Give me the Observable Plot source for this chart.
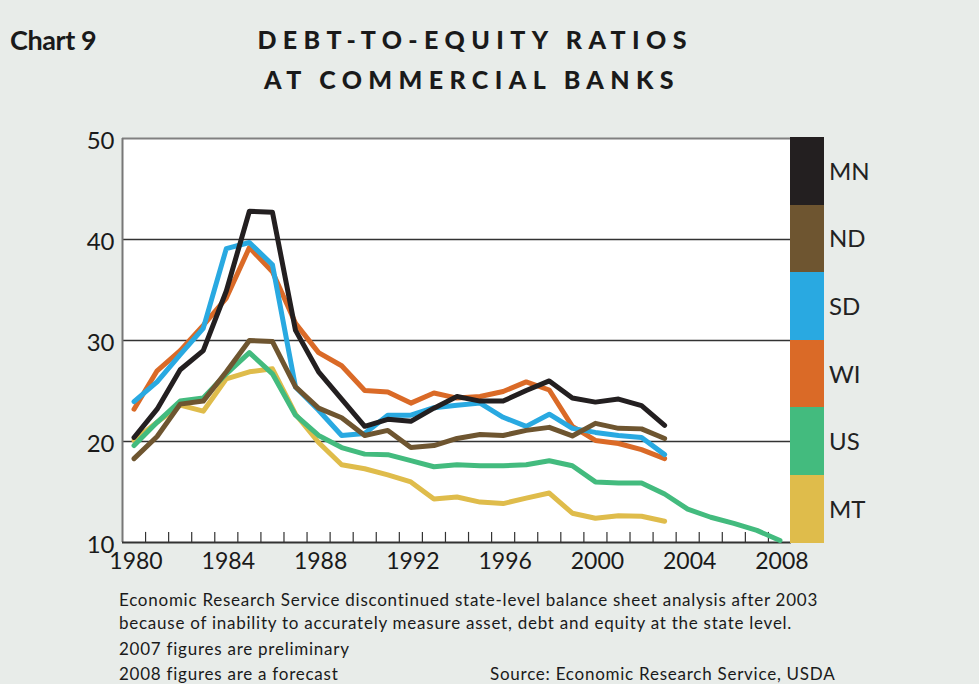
<!DOCTYPE html>
<html>
<head>
<meta charset="utf-8">
<script src="https://cdn.jsdelivr.net/npm/d3@7"></script>
<script src="https://cdn.jsdelivr.net/npm/@observablehq/plot@0.6"></script>
<style>
  html, body { margin: 0; padding: 0; background: #e8ece9; }
  #root { position: relative; width: 979px; height: 684px; overflow: hidden; font-family: Lato, "Open Sans", sans-serif; color: #1a1a1a; }
  .chartno { position: absolute; left: 10px; top: 23px; font-size: 27px; font-weight: 700; letter-spacing: -0.4px; }
  .title { position: absolute; left: 0; top: 19px; width: 944px; text-align: center; font-size: 25px; font-weight: 900; letter-spacing: 0.256em; line-height: 40px; text-indent: 0.256em; }
  #plot { position: absolute; left: 0; top: 120px; }
  #legend { position: absolute; left: 790px; top: 137px; }
  .sw { position: absolute; left: 0; width: 34px; }
  .lab { position: absolute; left: 39px; font-size: 24px; color: #222; }
  .notes { position: absolute; left: 119px; top: 589px; font-size: 17px; letter-spacing: 0.75px; color: #1a1a1a; }
  .notes div { position: absolute; left: 0; white-space: nowrap; }
</style>
</head>
<body>
<div id="root">
  <div class="chartno">Chart 9</div>
  <div class="title">DEBT-TO-EQUITY RATIOS<br>AT COMMERCIAL BANKS</div>
  <div id="plot"></div>
  <div id="legend"></div>
  <div class="notes">
    <div style="top:0px">Economic Research Service discontinued state-level balance sheet analysis after 2003</div>
    <div style="top:23px">because of inability to accurately measure asset, debt and equity at the state level.</div>
    <div style="top:49px">2007 figures are preliminary</div>
    <div style="top:74px">2008 figures are a forecast</div>
    <div style="top:74px; left:371px">Source: Economic Research Service, USDA</div>
  </div>
</div>
<script>
const stateYears = d3.range(1980, 2004);
const usYears = d3.range(1980, 2009);
const MN = [20.4, 23.2, 27.1, 29.0, 34.9, 42.8, 42.7, 31.0, 26.9, 24.2, 21.5, 22.2, 22.0, 23.3, 24.45, 24.0, 24.0, 25.05, 26.0, 24.3, 23.9, 24.2, 23.55, 21.6];
const ND = [18.3, 20.5, 23.7, 24.0, 26.9, 30.0, 29.9, 25.4, 23.3, 22.35, 20.6, 21.1, 19.4, 19.6, 20.3, 20.7, 20.6, 21.1, 21.4, 20.55, 21.8, 21.3, 21.25, 20.3];
const SD = [23.95, 25.9, 28.6, 31.2, 39.1, 39.7, 37.5, 25.4, 23.1, 20.6, 20.8, 22.6, 22.6, 23.35, 23.6, 23.8, 22.4, 21.5, 22.7, 21.3, 20.9, 20.6, 20.4, 18.7];
const WI = [23.2, 27.0, 29.0, 31.5, 34.2, 39.2, 36.8, 31.7, 28.8, 27.5, 25.05, 24.9, 23.8, 24.8, 24.3, 24.45, 24.95, 25.9, 25.1, 21.5, 20.1, 19.8, 19.2, 18.3];
const US = [19.6, 21.9, 24.0, 24.3, 26.7, 28.8, 26.7, 22.6, 20.6, 19.4, 18.75, 18.7, 18.1, 17.5, 17.7, 17.6, 17.6, 17.7, 18.1, 17.6, 16.0, 15.9, 15.9, 14.8, 13.3, 12.5, 11.9, 11.2, 10.2];
const MT = [20.1, 21.9, 23.6, 23.0, 26.2, 26.9, 27.2, 22.7, 19.9, 17.7, 17.3, 16.7, 16.0, 14.3, 14.5, 14.0, 13.85, 14.4, 14.9, 12.9, 12.4, 12.65, 12.6, 12.1];

const legendNames = ["MN", "ND", "SD", "WI", "US", "MT"];
const legendColors = ["#231f20", "#6e5530", "#29a9e1", "#da6a27", "#43bb7e", "#dfbc4b"];
const drawOrder = ["MT", "US", "WI", "SD", "ND", "MN"];
const yTicks = [10, 20, 30, 40, 50];
const xTicks = [1980, 1984, 1988, 1992, 1996, 2000, 2004, 2008];

const seriesValues = {MN, ND, SD, WI, US, MT};
const rows = [];
for (const name of drawOrder) {
  const vals = seriesValues[name];
  const yrs = name === "US" ? usYears : stateYears;
  vals.forEach((v, i) => rows.push({series: name, year: yrs[i], value: v}));
}
const colorOf = Object.fromEntries(legendNames.map((n, i) => [n, legendColors[i]]));
const boundaries = d3.range(1980.5, 2008.5, 1);

const chart = Plot.plot({
  width: 860,
  height: 460,
  marginLeft: 122,
  marginRight: 69,
  marginTop: 18,
  marginBottom: 38,
  style: {fontFamily: "Lato, 'Open Sans', sans-serif", background: "transparent", color: "#1a1a1a"},
  x: {domain: [1979.5, 2008.5], label: null},
  y: {domain: [10, 50], label: null},
  marks: [
    Plot.rect([0], {x1: 1979.5, x2: 2008.5, y1: 10, y2: 50, fill: "white"}),
    Plot.ruleY([20, 30, 40], {stroke: "#333", strokeWidth: 1.3}),
    Plot.ruleY([50], {stroke: "#808080", strokeWidth: 2.2}),
    Plot.ruleX([1979.5], {y1: 10, y2: 50, stroke: "#777", strokeWidth: 2}),
    Plot.ruleX(boundaries, {y1: 10, y2: 11, stroke: "#333", strokeWidth: 1.2}),
    Plot.ruleY([10], {stroke: "#333", strokeWidth: 2}),
    Plot.line(rows, {x: "year", y: "value", z: "series", stroke: d => colorOf[d.series], strokeWidth: 5, strokeLinejoin: "round"}),
    Plot.axisY(yTicks, {tickSize: 0, tickPadding: 8, fontSize: 24, dy: 3, label: null}),
    Plot.axisX(xTicks, {tickSize: 0, tickPadding: 10, fontSize: 23, tickFormat: d => String(d), dx: 2, label: null})
  ]
});
document.getElementById("plot").appendChild(chart);

const legend = document.getElementById("legend");
const blockH = 405.5 / legendNames.length;
legendNames.forEach((n, i) => {
  const sw = document.createElement("div");
  sw.className = "sw";
  sw.style.top = (i * blockH) + "px";
  sw.style.height = (blockH + 0.5) + "px";
  sw.style.background = legendColors[i];
  legend.appendChild(sw);
  const lab = document.createElement("div");
  lab.className = "lab";
  lab.textContent = n;
  lab.style.top = (i * blockH + blockH / 2 - 15) + "px";
  legend.appendChild(lab);
});
</script>
</body>
</html>
